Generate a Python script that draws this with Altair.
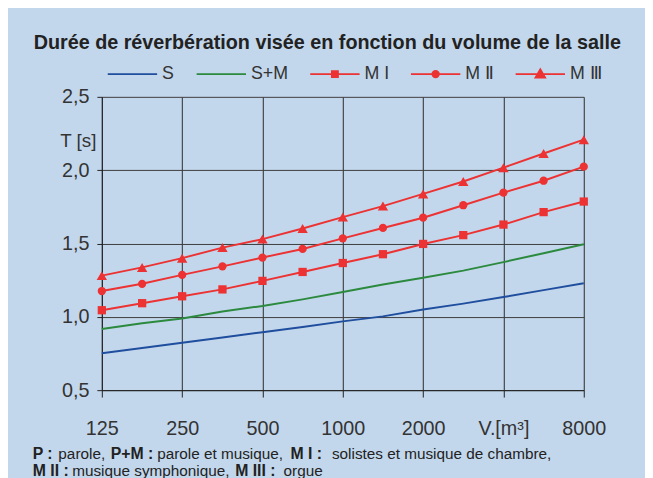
import altair as alt
import pandas as pd

# ---- data ----
volumes = [125, 177, 250, 354, 500, 707, 1000, 1414, 2000, 2828, 4000, 5657, 8000]
t_S    = [0.751, 0.787, 0.823, 0.859, 0.895, 0.931, 0.969, 1.003, 1.050, 1.090, 1.135, 1.182, 1.229]
t_SM   = [0.917, 0.956, 0.989, 1.036, 1.074, 1.119, 1.169, 1.221, 1.266, 1.315, 1.373, 1.434, 1.495]
t_MI   = [1.045, 1.093, 1.140, 1.187, 1.245, 1.306, 1.367, 1.427, 1.497, 1.557, 1.629, 1.714, 1.786]
t_MII  = [1.176, 1.225, 1.286, 1.344, 1.404, 1.463, 1.535, 1.606, 1.676, 1.761, 1.847, 1.928, 2.024]
t_MIII = [1.281, 1.337, 1.400, 1.472, 1.530, 1.602, 1.680, 1.755, 1.838, 1.923, 2.017, 2.114, 2.208]

series_names = ["S", "S+M", "M I", "M Ⅱ", "M Ⅲ"]
series_colors = ["#1f4e9e", "#2b8a3e", "#ec3232", "#ec3232", "#ec3232"]
x_ticks = [125, 250, 500, 1000, 2000, 4000, 8000]
y_ticks = [0.5, 1.0, 1.5, 2.0, 2.5]

title_text = "Durée de réverbération visée en fonction du volume de la salle"

rows = []
for name, vals in zip(series_names, [t_S, t_SM, t_MI, t_MII, t_MIII]):
    for v, t in zip(volumes, vals):
        rows.append({"series": name, "V": v, "T": t})
df = pd.DataFrame(rows)

FONT = "Liberation Sans"
BG = "#c3d7ec"
RED = "#ec3232"

# legend symbols: a line with the marker in its middle
legend_paths = [
    "M-5,0H5",
    "M-5,0H5",
    "M-5,0H5M-0.6,-0.6H0.6V0.6H-0.6Z",
    "M-5,0H5M0.65,0A0.65,0.65 0 1 1 -0.65,0A0.65,0.65 0 1 1 0.65,0Z",
    "M-5,0H5M0,-0.95L0.95,0.7L-0.95,0.7Z",
]

x_enc = alt.X(
    "V:Q",
    scale=alt.Scale(type="log", base=2, domain=[125, 8000], nice=False),
    axis=alt.Axis(
        values=x_ticks, title=None, grid=True, gridColor="#2a2a2a",
        tickSize=7, labelPadding=22, labelFontSize=20, labelFlush=False,
        labelExpr="datum.value == 4000 ? 'V.[m³]' : format(datum.value, 'd')",
    ),
)
y_enc = alt.Y(
    "T:Q",
    scale=alt.Scale(domain=[0.5, 2.5], nice=False, zero=False),
    axis=alt.Axis(
        values=y_ticks, grid=True, gridColor="#3c3c3c", tickSize=5,
        labelPadding=8, labelFontSize=20, labelFlush=False,
        labelExpr="replace(format(datum.value, '.1f'), '.', ',')",
        title="T [s]", titleAngle=0, titleAlign="right", titleBaseline="middle",
        titleX=-6, titleY=44, titleFontSize=19, titleFontWeight="normal",
    ),
)

color_scale = alt.Scale(domain=series_names, range=series_colors)

leg = alt.Legend(
    orient="none", legendX=22, legendY=-32, direction="horizontal",
    title=None, padding=0, symbolSize=100, symbolStrokeWidth=2,
    symbolOpacity=1,
    labelFontSize=18, labelFont=FONT, labelColor="#333",
    labelOffset=21, columnPadding=18,
)

# invisible carrier of the legend: its points sit below the clipped plot area
legend_layer = alt.Chart(df).transform_calculate(Tout="-5").mark_point(
    filled=True, opacity=1, size=100, strokeWidth=2, clip=True
).encode(
    x="V:Q",
    y="Tout:Q",
    color=alt.Color("series:N", scale=color_scale, legend=leg),
    stroke=alt.Stroke("series:N", scale=alt.Scale(domain=series_names, range=series_colors), legend=leg),
    shape=alt.Shape("series:N", scale=alt.Scale(domain=series_names, range=legend_paths), legend=leg),
)

lines = alt.Chart(df).mark_line(strokeWidth=2).encode(
    x=x_enc,
    y=y_enc,
    color=alt.Color("series:N", scale=color_scale),
)


def markers(name, mark, size):
    return alt.Chart(df).transform_filter(
        alt.datum.series == name
    ).mark_point(shape=mark, filled=True, opacity=1, size=size, color=RED).encode(
        x="V:Q", y="T:Q"
    )


pts = [
    markers("M I", "square", 70),
    markers("M Ⅱ", "circle", 70),
    markers("M Ⅲ", "triangle-up", 110),
]

one = alt.Data(values=[{}])


def footer(txt, x, y, bold):
    return alt.Chart(one).mark_text(
        align="left", baseline="alphabetic", fontSize=16 if bold else 15.5, font=FONT,
        fontWeight="bold" if bold else "normal", color="#222",
    ).encode(x=alt.value(x), y=alt.value(y), text=alt.value(txt))


foot = [
    footer("P :", -70, 367, True),
    footer("parole,", -44, 367, False),
    footer("P+M :", 9, 367, True),
    footer("parole et musique,", 56, 367, False),
    footer("M I :", 191, 367, True),
    footer("solistes et musique de chambre,", 233, 367, False),
    footer("M II :", -70, 384, True),
    footer("musique symphonique,", -30, 384, False),
    footer("M III :", 135, 384, True),
    footer("orgue", 184, 384, False),
]

chart = alt.layer(legend_layer, lines, *pts, *foot).properties(
    width=488, height=297,
    autosize=alt.AutoSizeParams(type="none"),
    padding={"left": 95, "top": 87, "right": 62, "bottom": 86},
    background=BG,
    title=alt.Title(
        title_text, anchor="start", frame="group", dx=-69, offset=12,
        fontSize=20, font=FONT, fontWeight="bold", color="#222",
    ),
).configure_view(stroke=None).configure_axis(
    labelFont=FONT, titleFont=FONT, labelColor="#333", titleColor="#333",
    domainColor="#222", tickColor="#222", gridWidth=1, domainWidth=1,
)

chart.save("out.html", embed_options={"renderer": "svg", "actions": False})
